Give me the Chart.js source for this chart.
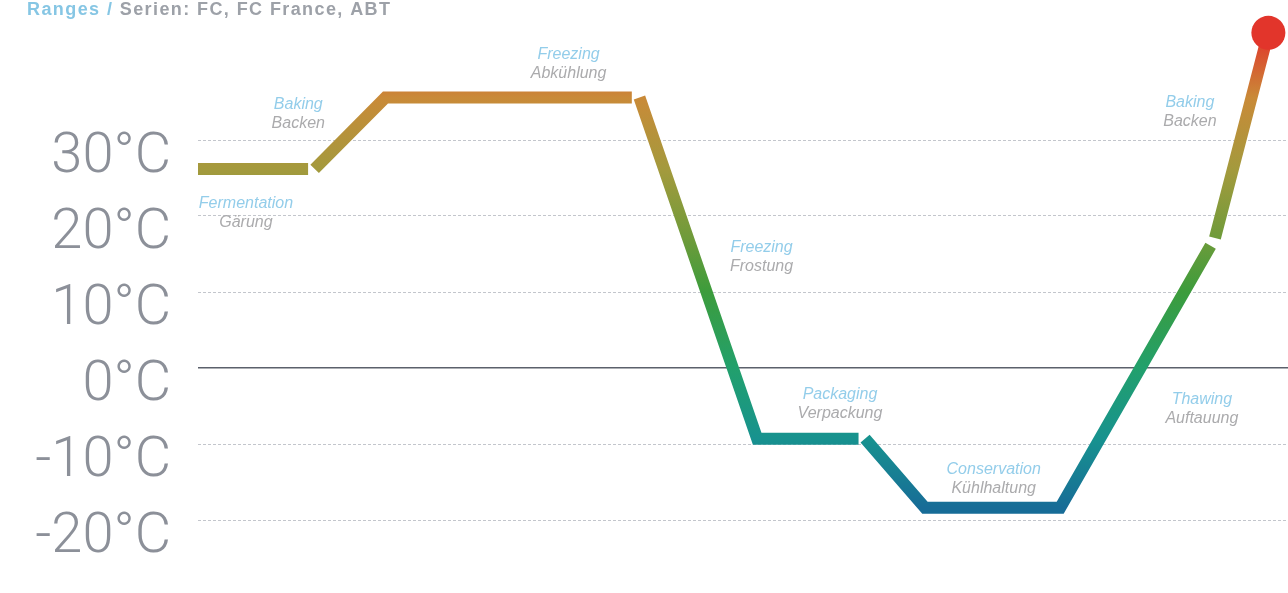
<!DOCTYPE html>
<html>
<head>
<meta charset="utf-8">
<script src="https://cdn.jsdelivr.net/npm/chart.js@4/dist/chart.umd.min.js"></script>
<style>
  html, body { margin: 0; padding: 0; background: #ffffff; }
  #wrap { width: 1288px; height: 593px; position: relative; }
</style>
</head>
<body>
<div id="wrap"><canvas id="c"></canvas></div>
<script>
// ---- Data ----
const titleBlue = 'Ranges / ';
const titleGray = 'Serien: FC, FC France, ABT';

// process time (relative units) and temperature (°C); null = break in the line
const times = [0, 10.1, 10.4, 10.7, 17.2, 39.8, 40.1, 40.5, 51.3, 60.6, 60.9, 61.2, 66.7, 79.1, 92.9, 93.1, 93.3, 98.2];
const temps = [26.2, 26.2, null, 26.2, 35.6, 35.6, null, 35.6, -9.3, -9.3, null, -9.3, -18.4, -18.4, 16.1, null, 17.1, 44.1];

const tickValues = [-20, -10, 0, 10, 20, 30];
const tickUnit = '°C';

// phase labels (English / German) and their anchor (time, temperature)
const phaseEn = ['Baking', 'Fermentation', 'Freezing', 'Freezing', 'Packaging', 'Conservation', 'Baking', 'Thawing'];
const phaseDe = ['Backen', 'Gärung', 'Abkühlung', 'Frostung', 'Verpackung', 'Kühlhaltung', 'Backen', 'Auftauung'];
const phaseTime = [9.2, 4.4, 34.0, 51.7, 58.9, 73.0, 91.0, 92.1];
const phaseTemp = [34.7, 21.7, 41.2, 15.8, -3.5, -13.4, 34.9, -4.2];

// colour gradient stops by temperature
const gradTemps = [-18.4, -9.3, 0, 10, 17, 26, 35.6, 44];
const gradColors = ['#176c97', '#17928f', '#22a06c', '#3c9c3c', '#6e9b3a', '#a39a3d', '#c98a38', '#e2342b'];

const points = times.map((t, i) => ({ x: t, y: temps[i] }));

function lineGradient(context) {
  const chart = context.chart;
  const { ctx, chartArea, scales } = chart;
  if (!chartArea || !scales.y) return gradColors[0];
  const y0 = scales.y.getPixelForValue(gradTemps[0]);
  const y1 = scales.y.getPixelForValue(gradTemps[gradTemps.length - 1]);
  const g = ctx.createLinearGradient(0, y0, 0, y1);
  const span = gradTemps[gradTemps.length - 1] - gradTemps[0];
  gradTemps.forEach((v, i) => g.addColorStop((v - gradTemps[0]) / span, gradColors[i]));
  return g;
}

const titlePlugin = {
  id: 'twoColorTitle',
  afterDraw(chart) {
    const c = chart.ctx;
    c.save();
    c.font = 'bold 18px "Liberation Sans", Arial, sans-serif';
    c.textBaseline = 'alphabetic';
    c.textAlign = 'left';
    const full = titleBlue + titleGray;
    const natural = c.measureText(full).width;
    const spacing = Math.max(0, (363 - natural) / (full.length - 1));
    c.letterSpacing = spacing.toFixed(2) + 'px';
    c.fillStyle = '#86c6e4';
    c.fillText(titleBlue, 27, 15);
    const w = c.measureText(titleBlue).width;
    c.fillStyle = '#9da1a8';
    c.fillText(titleGray, 27 + w, 15);
    c.restore();
  }
};

const phasePlugin = {
  id: 'phaseLabels',
  afterDatasetsDraw(chart) {
    const c = chart.ctx;
    const xs = chart.scales.x, ys = chart.scales.y;
    c.save();
    c.font = 'italic 16px "Liberation Sans", Arial, sans-serif';
    c.textAlign = 'center';
    c.textBaseline = 'middle';
    phaseEn.forEach((en, i) => {
      const px = xs.getPixelForValue(phaseTime[i]);
      const py = ys.getPixelForValue(phaseTemp[i]);
      c.fillStyle = '#93cdea';
      c.fillText(en, px, py);
      c.fillStyle = '#ababad';
      c.fillText(phaseDe[i], px, py + 19);
    });
    c.restore();
  }
};

new Chart(document.getElementById('c'), {
  type: 'line',
  data: {
    datasets: [{
      data: points,
      borderColor: lineGradient,
      borderWidth: 12,
      borderCapStyle: 'butt',
      borderJoinStyle: 'miter',
      spanGaps: false,
      tension: 0,
      clip: false,
      pointRadius: (ctx) => ctx.dataIndex === points.length - 1 ? 17 : 0,
      pointHoverRadius: (ctx) => ctx.dataIndex === points.length - 1 ? 17 : 0,
      pointBackgroundColor: '#e2352b',
      pointBorderWidth: 0
    }]
  },
  options: {
    responsive: true,
    maintainAspectRatio: false,
    animation: false,
    events: [],
    layout: { autoPadding: false, padding: { top: 26, bottom: 35, left: 0, right: 0 } },
    plugins: { legend: { display: false }, tooltip: { enabled: false }, title: { display: false } },
    scales: {
      x: { type: 'linear', min: 0, max: 100, display: false },
      y: {
        type: 'linear',
        min: -25,
        max: 45,
        afterBuildTicks: (s) => { s.ticks = tickValues.map(v => ({ value: v })); },
        afterFit: (s) => { s.width = 198; s.paddingTop = 0; s.paddingBottom = 0; },
        border: {
          display: false,
          dash: (ctx) => ctx.tick && ctx.tick.value === 0 ? [] : [3, 2]
        },
        grid: {
          drawTicks: false,
          color: (ctx) => ctx.tick && ctx.tick.value === 0 ? '#5b606b' : '#c3c6cc',
          lineWidth: (ctx) => ctx.tick && ctx.tick.value === 0 ? 1.5 : 1
        },
        ticks: {
          padding: 27,
          labelOffset: 18,
          color: '#8c9099',
          font: { family: 'Roboto, "Liberation Sans", sans-serif', size: 56, weight: 300, lineHeight: 1 },
          callback: (v) => v + tickUnit
        }
      }
    }
  },
  plugins: [titlePlugin, phasePlugin]
});
</script>
</body>
</html>
